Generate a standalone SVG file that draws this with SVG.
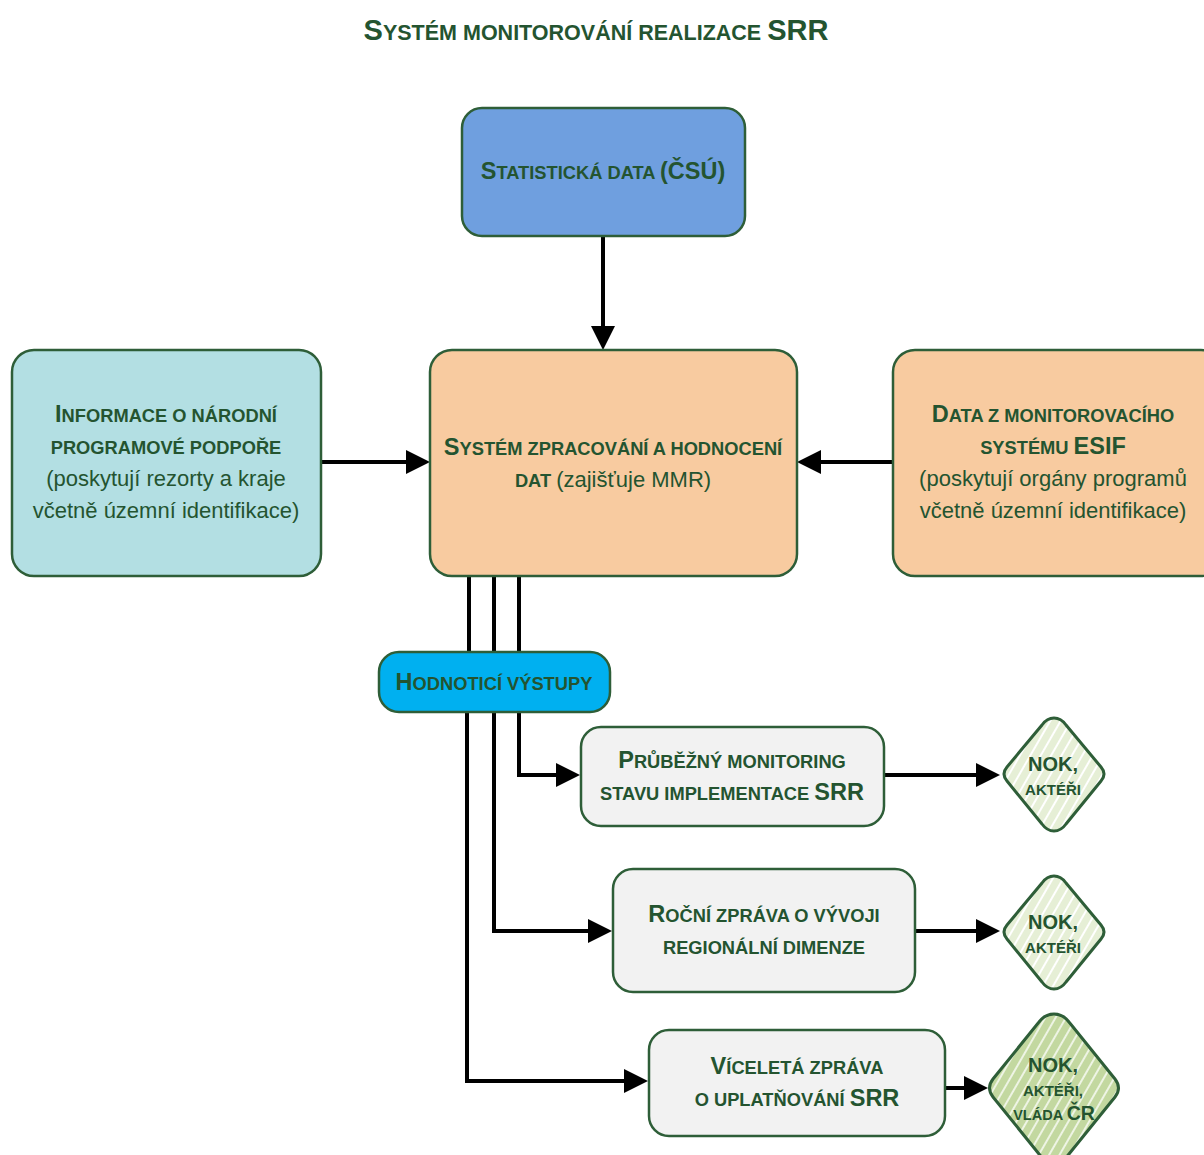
<svg xmlns="http://www.w3.org/2000/svg" width="1204" height="1155" viewBox="0 0 1204 1155">
<style>
.t{font-family:"Liberation Sans",Arial,sans-serif;font-weight:bold;fill:#245430;text-anchor:middle}
.b{font-size:23.5px}
.s{font-size:18.3px}
.r{font-family:"Liberation Sans",Arial,sans-serif;font-size:22px;fill:#245430;text-anchor:middle}
.box{stroke:#2e5e38;stroke-width:2.5}
.ln{stroke:#000;stroke-width:4;fill:none}
.arr{stroke:#000;stroke-width:4;fill:none;marker-end:url(#ah)}
.dm{stroke:#2e5e38;stroke-width:3;stroke-linejoin:round}
</style>
<defs>
<marker id="ah" markerWidth="6" markerHeight="6" refX="4.5" refY="3" orient="auto" markerUnits="strokeWidth">
<path d="M0,0 L6,3 L0,6 z" fill="#000"/>
</marker>
<pattern id="h1" width="9" height="9" patternUnits="userSpaceOnUse" patternTransform="rotate(30)">
<rect width="9" height="9" fill="#e6efd6"/>
<rect width="2" height="9" fill="#ffffff"/>
</pattern>
<pattern id="h2" width="9" height="9" patternUnits="userSpaceOnUse" patternTransform="rotate(30)">
<rect width="9" height="9" fill="#c3d8a0"/>
<rect width="2" height="9" fill="#eef4e4"/>
</pattern>
</defs>
<rect width="1204" height="1155" fill="#fff"/>
<text class="t" x="596" y="40"><tspan style="font-size:29px">S</tspan><tspan style="font-size:21.5px">YSTÉM MONITOROVÁNÍ REALIZACE </tspan><tspan style="font-size:29px">SRR</tspan></text>

<g id="connectors">
<path class="arr" d="M603,236 V344"/>
<path class="arr" d="M321,462 H424"/>
<path class="arr" d="M893,462 H803"/>
<path class="ln" d="M469,576 V652 M494,576 V652 M519,576 V652"/>
<path class="arr" d="M519,712 V775 H574"/>
<path class="arr" d="M494,712 V931 H606"/>
<path class="arr" d="M467,712 V1081 H642"/>
<path class="arr" d="M884,775 H994"/>
<path class="arr" d="M915,931 H994"/>
<path class="arr" d="M945,1088 H982"/>
</g>

<g id="stat">
<rect class="box" x="462" y="108" width="283" height="128" rx="20" fill="#6f9fdf"/>
<text class="t" x="603" y="179"><tspan class="b">S</tspan><tspan class="s">TATISTICKÁ DATA </tspan><tspan class="b">(ČSÚ)</tspan></text>
</g>

<g id="central">
<rect class="box" x="430" y="350" width="367" height="226" rx="22" fill="#f8cba0"/>
<text class="t" x="613" y="455"><tspan class="b">S</tspan><tspan class="s">YSTÉM ZPRACOVÁNÍ A HODNOCENÍ</tspan></text>
<text class="t" x="613" y="487"><tspan class="s">DAT </tspan><tspan style="font-weight:normal;font-size:22px">(zajišťuje MMR)</tspan></text>
</g>

<g id="left">
<rect class="box" x="12" y="350" width="309" height="226" rx="22" fill="#b3dfe3"/>
<text class="t" x="166" y="422"><tspan class="b">I</tspan><tspan class="s">NFORMACE O NÁRODNÍ</tspan></text>
<text class="t" x="166" y="454"><tspan class="s">PROGRAMOVÉ PODPOŘE</tspan></text>
<text class="r" x="166" y="486">(poskytují rezorty a kraje</text>
<text class="r" x="166" y="518">včetně územní identifikace)</text>
</g>

<g id="right">
<rect class="box" x="893" y="350" width="330" height="226" rx="22" fill="#f8cba0"/>
<text class="t" x="1053" y="422"><tspan class="b">D</tspan><tspan class="s">ATA Z MONITOROVACÍHO</tspan></text>
<text class="t" x="1053" y="454"><tspan class="s">SYSTÉMU </tspan><tspan class="b">ESIF</tspan></text>
<text class="r" x="1053" y="486">(poskytují orgány programů</text>
<text class="r" x="1053" y="518">včetně územní identifikace)</text>
</g>

<g id="hodnotici">
<rect class="box" x="379" y="652" width="231" height="60" rx="20" fill="#00b0f0"/>
<text class="t" x="494" y="690"><tspan class="b">H</tspan><tspan class="s">ODNOTICÍ VÝSTUPY</tspan></text>
</g>

<g id="out1">
<rect class="box" x="581" y="727" width="303" height="99" rx="20" fill="#f2f2f2"/>
<text class="t" x="732" y="768"><tspan class="b">P</tspan><tspan class="s">RŮBĚŽNÝ MONITORING</tspan></text>
<text class="t" x="732" y="800"><tspan class="s">STAVU IMPLEMENTACE </tspan><tspan class="b">SRR</tspan></text>
</g>

<g id="out2">
<rect class="box" x="613" y="869" width="302" height="123" rx="20" fill="#f2f2f2"/>
<text class="t" x="764" y="922"><tspan class="b">R</tspan><tspan class="s">OČNÍ ZPRÁVA O VÝVOJI</tspan></text>
<text class="t" x="764" y="954"><tspan class="s">REGIONÁLNÍ DIMENZE</tspan></text>
</g>

<g id="out3">
<rect class="box" x="649" y="1030" width="296" height="106" rx="20" fill="#f2f2f2"/>
<text class="t" x="797" y="1074"><tspan class="b">V</tspan><tspan class="s">ÍCELETÁ ZPRÁVA</tspan></text>
<text class="t" x="797" y="1106"><tspan class="s">O UPLATŇOVÁNÍ </tspan><tspan class="b">SRR</tspan></text>
</g>

<g id="dia1">
<path class="dm" d="M1054,718 Q1061,718 1066,725 L1101,767 Q1107,774 1101,781 L1066,824 Q1061,831 1054,831 Q1047,831 1042,824 L1007,781 Q1001,774 1007,767 L1042,725 Q1047,718 1054,718 Z" fill="url(#h1)"/>
<text class="t" x="1053" y="771"><tspan style="font-size:20px">NOK,</tspan></text>
<text class="t" x="1053" y="795"><tspan style="font-size:15px">AKTÉŘI</tspan></text>
</g>

<g id="dia2">
<path class="dm" d="M1054,876 Q1061,876 1066,883 L1101,925 Q1107,932 1101,939 L1066,982 Q1061,989 1054,989 Q1047,989 1042,982 L1007,939 Q1001,932 1007,925 L1042,883 Q1047,876 1054,876 Z" fill="url(#h1)"/>
<text class="t" x="1053" y="929"><tspan style="font-size:20px">NOK,</tspan></text>
<text class="t" x="1053" y="953"><tspan style="font-size:15px">AKTÉŘI</tspan></text>
</g>

<g id="dia3">
<path class="dm" d="M1054,1014 Q1063,1014 1069,1022 L1115,1079 Q1122,1088 1115,1097 L1069,1154 Q1063,1162 1054,1162 Q1045,1162 1039,1154 L993,1097 Q986,1088 993,1079 L1039,1022 Q1045,1014 1054,1014 Z" fill="url(#h2)"/>
<text class="t" x="1053" y="1072"><tspan style="font-size:20px">NOK,</tspan></text>
<text class="t" x="1053" y="1096"><tspan style="font-size:15px">AKTÉŘI,</tspan></text>
<text class="t" x="1054" y="1120"><tspan style="font-size:14.5px">VLÁDA </tspan><tspan style="font-size:19.5px">ČR</tspan></text>
</g>
</svg>
